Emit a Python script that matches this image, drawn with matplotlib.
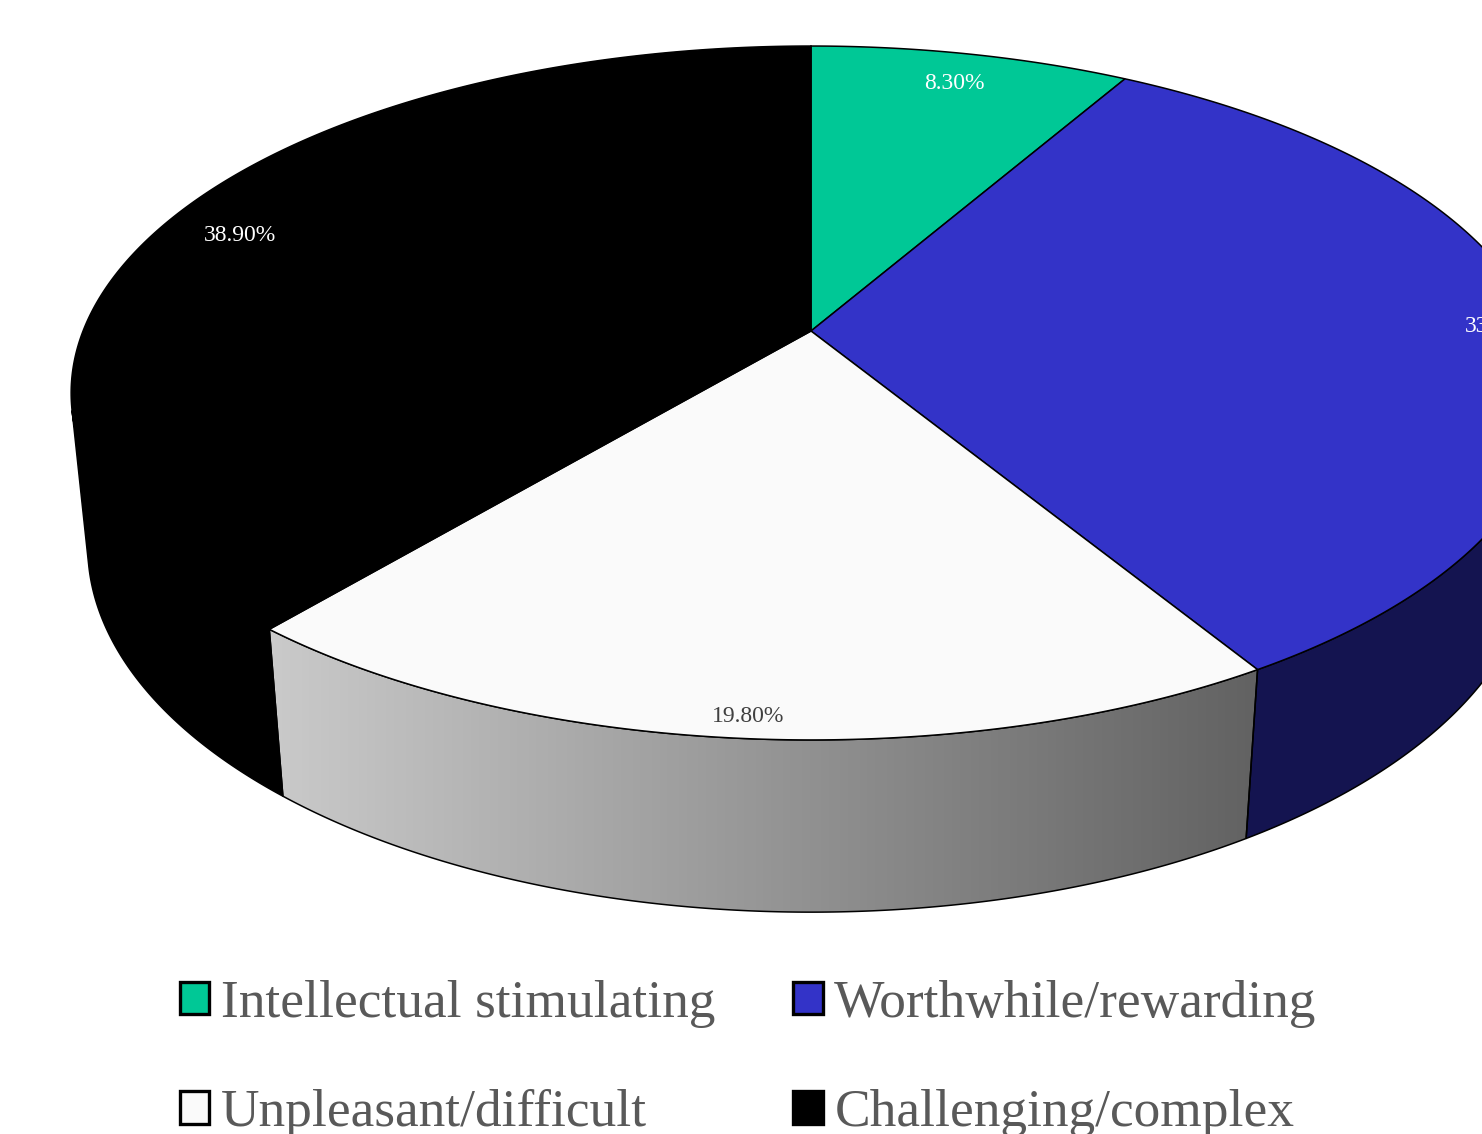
import numpy as np
import matplotlib
matplotlib.use('Agg')
import matplotlib.pyplot as plt
from matplotlib.patches import Polygon, Patch
from matplotlib.colors import LinearSegmentedColormap

# ---------------- data ----------------
categories = ["Intellectual stimulating", "Worthwhile/rewarding",
              "Unpleasant/difficult", "Challenging/complex"]
values = [8.30, 33.00, 19.80, 38.90]
value_labels = ["8.30%", "33.00%", "19.80%", "38.90%"]
top_colors = ["#00C896", "#3333C8", "#FAFAFA", "#000000"]
side_colors = ["#007A5C", "#141450", "gradient", "#000000"]
label_colors = ["white", "white", "#404040", "white"]
legend_order = [0, 2, 1, 3]

# label placement (radial fraction, layout only)
label_radius = [0.88, 0.95, 0.955, 0.88]

# ---------------- figure ----------------
W, H = 1482, 1134
fig = plt.figure(figsize=(W / 100, H / 100), dpi=100)
ax = fig.add_axes([0, 0, 1, 1])
ax.set_axis_off()

# perspective projection of a cylinder (pixel coordinates, y down)
CX, CY = 811, 331
s = 0.4614
c = np.sqrt(1 - s ** 2)
d = 4.966
F = 3615
depth = 0.239


def proj(x, y, z):
    den = d + c * y - s * z
    return CX + x * F / den, CY - (s * y + c * z) * F / den


def arc(t0, t1, z, r=1.0, n=300):
    t = np.linspace(t0, t1, n)
    return proj(r * np.cos(t), r * np.sin(t), z * np.ones_like(t))


total = sum(values)
fr = np.array(values) / total
ends = np.pi / 2 - 2 * np.pi * np.cumsum(fr)
starts = np.concatenate([[np.pi / 2], ends[:-1]])

k = 1.0 / (d * c)
vis_lo, vis_hi = -np.pi + np.arcsin(k), -np.arcsin(k)

grad_cmap = LinearSegmentedColormap.from_list("g", ["#CACACA", "#626262"])

# ---- sides ----
for i in range(len(values)):
    lo, hi = ends[i], starts[i]
    a, b = max(lo, vis_lo), min(hi, vis_hi)
    if a >= b:
        continue
    tx, ty = arc(a, b, 0.0)
    bx, by = arc(b, a, -depth)
    pts = np.column_stack([np.concatenate([tx, bx]), np.concatenate([ty, by])])
    if side_colors[i] == "gradient":
        poly = Polygon(pts, closed=True, facecolor="none", edgecolor="none")
        ax.add_patch(poly)
        x0, x1 = pts[:, 0].min(), pts[:, 0].max()
        y0, y1 = pts[:, 1].min(), pts[:, 1].max()
        grad = np.linspace(0, 1, 256)[None, :]
        im = ax.imshow(grad, extent=(x0, x1, y1, y0), cmap=grad_cmap,
                       aspect="auto", interpolation="bilinear", zorder=1)
        im.set_clip_path(poly)
        ax.add_patch(Polygon(pts, closed=True, facecolor="none",
                             edgecolor="black", lw=1.1, zorder=2))
    else:
        ax.add_patch(Polygon(pts, closed=True, facecolor=side_colors[i],
                             edgecolor="black", lw=1.1, zorder=2))

# ---- top faces ----
ox, oy = proj(0.0, 0.0, 0.0)
for i in range(len(values)):
    tx, ty = arc(starts[i], ends[i], 0.0)
    pts = np.column_stack([np.concatenate([[ox], tx]), np.concatenate([[oy], ty])])
    ax.add_patch(Polygon(pts, closed=True, facecolor=top_colors[i],
                         edgecolor="black", lw=1.1, zorder=3))

# ---- value labels ----
for i in range(len(values)):
    m = (starts[i] + ends[i]) / 2
    r = label_radius[i]
    lx, ly = proj(r * np.cos(m), r * np.sin(m), 0.0)
    ax.text(lx, ly, value_labels[i], color=label_colors[i], fontsize=17,
            family="Liberation Serif", ha="center", va="center", zorder=5)

ax.set_xlim(0, W)
ax.set_ylim(H, 0)

# ---- legend ----
handles = [Patch(facecolor=top_colors[i], edgecolor="black", lw=2.4) for i in legend_order]
labels = [categories[i] for i in legend_order]
fig.legend(handles, labels, ncol=2, loc="upper left",
           bbox_to_anchor=(180 / W, 1 - 980 / H), frameon=False,
           prop={"family": "Liberation Serif", "size": 38.4},
           labelcolor="#595959", handlelength=0.55, handleheight=0.55,
           handletextpad=0.22, columnspacing=1.46, labelspacing=1.15,
           borderpad=0, borderaxespad=0)

fig.savefig("out.png", dpi=100)
